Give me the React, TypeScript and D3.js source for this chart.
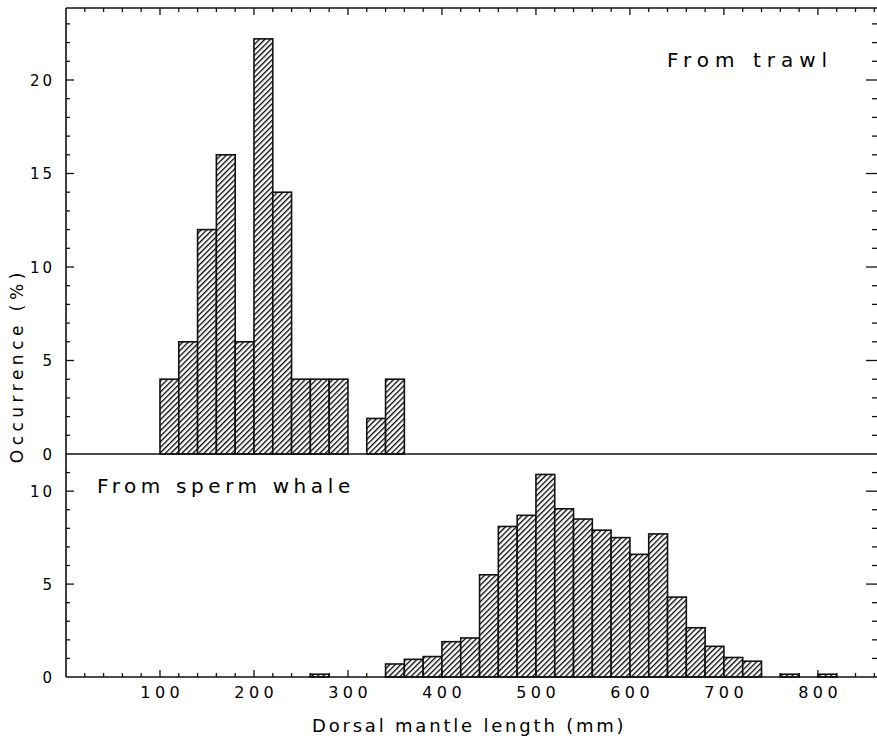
import React from "react";
import * as d3 from "d3";

// bin starts (mm) and occurrence (%)
const trawlBins = [100, 120, 140, 160, 180, 200, 220, 240, 260, 280, 320, 340];
const trawlValues = [4, 6, 12, 16, 6, 22.2, 14, 4, 4, 4, 1.9, 4];

const whaleBins = [
  260, 340, 360, 380, 400, 420, 440, 460, 480, 500, 520, 540, 560, 580, 600, 620,
  640, 660, 680, 700, 720, 760, 800,
];
const whaleValues = [
  0.15, 0.7, 0.95, 1.1, 1.9, 2.1, 5.5, 8.1, 8.7, 10.9, 9.05, 8.5, 7.9, 7.5, 6.6,
  7.7, 4.3, 2.65, 1.65, 1.05, 0.85, 0.15, 0.15,
];

const binWidth = 20;
const xTicks = [100, 200, 300, 400, 500, 600, 700, 800];
const trawlYTicks = [0, 5, 10, 15, 20];
const whaleYTicks = [0, 5, 10];

const width = 877;
const height = 738;

const App = () => {
  const x = d3.scaleLinear().domain([0, 865]).range([66, 879]);
  const yTop = d3.scaleLinear().domain([0, 23.85]).range([454, 8]);
  const yBot = d3.scaleLinear().domain([0, 12]).range([677, 454]);

  const minorX = d3.range(20, 861, 20);
  const minorTop = d3.range(1, 24, 1);
  const minorBot = d3.range(1, 12, 1);

  const font = "'DejaVu Sans', sans-serif";
  const stroke = "#111";

  const bars = (bins: number[], values: number[], y: d3.ScaleLinear<number, number>) =>
    bins.map((b, i) => (
      <rect
        key={b}
        x={x(b)}
        y={y(values[i])}
        width={x(b + binWidth) - x(b)}
        height={y(0) - y(values[i])}
        fill="url(#hatch)"
        stroke={stroke}
        strokeWidth={1.6}
      />
    ));

  const yAxis = (
    y: d3.ScaleLinear<number, number>,
    minor: number[],
    labels: number[],
    key: string
  ) => (
    <g key={key}>
      {minor.map((v) => {
        const major = v % 5 === 0;
        return (
          <g key={v}>
            <line x1={x(0)} x2={x(0) + (major ? 8 : 4)} y1={y(v)} y2={y(v)} stroke={stroke} strokeWidth={1.3} />
            <line x1={x(865)} x2={x(865) - (major ? 13 : 7)} y1={y(v)} y2={y(v)} stroke={stroke} strokeWidth={1.3} />
          </g>
        );
      })}
      {labels.map((v) => (
        <text key={v} x={52} y={y(v) + 6} textAnchor="end" fontSize={15} letterSpacing={3} dx={3}>
          {v}
        </text>
      ))}
    </g>
  );

  return (
    <svg
      width={width}
      height={height}
      viewBox={`0 0 ${width} ${height}`}
      style={{ position: "absolute", left: 0, top: 0, background: "#fff", fontFamily: font }}
    >
      <defs>
        <pattern
          id="hatch"
          patternUnits="userSpaceOnUse"
          width={3.9}
          height={3.9}
          patternTransform="rotate(45)"
        >
          <rect width={3.9} height={3.9} fill="#fff" />
          <line x1={0} y1={0} x2={0} y2={3.9} stroke="#000" strokeWidth={2.6} />
        </pattern>
      </defs>
      <rect width={width} height={height} fill="#fff" />

      {bars(trawlBins, trawlValues, yTop)}
      {bars(whaleBins, whaleValues, yBot)}

      {/* frame */}
      <line x1={x(0)} x2={x(0)} y1={yTop.range()[1]} y2={yBot(0)} stroke={stroke} strokeWidth={1.6} />
      <line x1={x(0)} x2={x(865)} y1={yTop.range()[1]} y2={yTop.range()[1]} stroke={stroke} strokeWidth={1.6} />
      <line x1={x(0)} x2={x(865)} y1={yTop(0)} y2={yTop(0)} stroke={stroke} strokeWidth={1.6} />
      <line x1={x(0)} x2={x(865)} y1={yBot(0)} y2={yBot(0)} stroke={stroke} strokeWidth={1.6} />

      {/* x ticks, top and bottom */}
      {minorX.map((v) => {
        const major = v % 100 === 0;
        return (
          <g key={v}>
            <line x1={x(v)} x2={x(v)} y1={yTop.range()[1]} y2={yTop.range()[1] + (major ? 7 : 4)} stroke={stroke} strokeWidth={1.3} />
            <line x1={x(v)} x2={x(v)} y1={yBot(0)} y2={yBot(0) - (major ? 7 : 4)} stroke={stroke} strokeWidth={1.3} />
          </g>
        );
      })}
      {xTicks.map((v) => (
        <text key={v} x={x(v)} y={698} textAnchor="middle" fontSize={16} letterSpacing={4.5} dx={2.25}>
          {v}
        </text>
      ))}

      {yAxis(yTop, minorTop, trawlYTicks, "top")}
      {yAxis(yBot, minorBot, whaleYTicks, "bot")}

      <text x={667} y={67} fontSize={20} letterSpacing={6}>
        From trawl
      </text>
      <text x={97} y={493} fontSize={20} letterSpacing={4.6}>
        From sperm whale
      </text>

      <text x={312} y={732} fontSize={18} letterSpacing={2.8}>
        Dorsal mantle length (mm)
      </text>
      <text
        transform={`translate(23, 368) rotate(-90)`}
        textAnchor="middle"
        fontSize={17}
        letterSpacing={4.5}
        dx={2.25}
      >
        Occurrence (%)
      </text>
    </svg>
  );
};

export default App;
